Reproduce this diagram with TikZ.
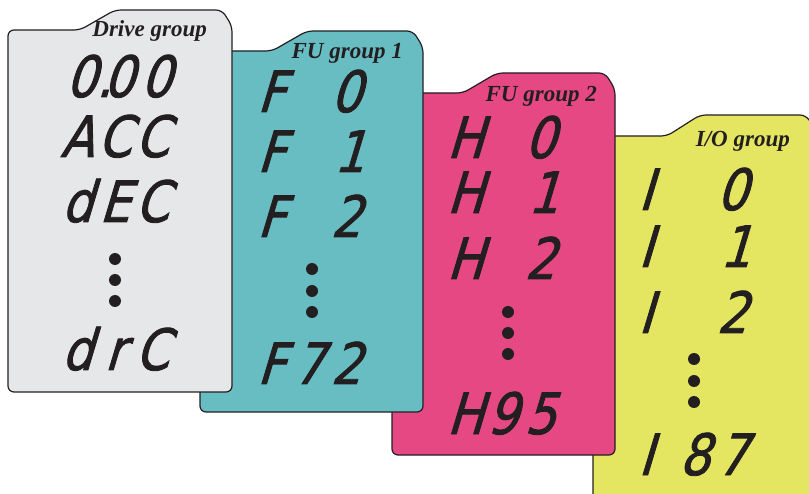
\documentclass[tikz,border=0pt]{standalone}
\usepackage{fontspec}
\newfontfamily\segfont[FakeSlant=0.3,FakeStretch=0.85,FakeBold=1.5]{DejaVu Sans}
\newfontfamily\titlefont{Liberation Serif}
\definecolor{ink}{HTML}{231F20}
\definecolor{cgray}{HTML}{E6E7E8}
\definecolor{cteal}{HTML}{68BDC3}
\definecolor{cpink}{HTML}{E54883}
\definecolor{cyell}{HTML}{E4E560}
\newcommand\cl[2][c]{\makebox[37.5pt][#1]{#2}}
% \card{left}{right}{bodytop}{tabtop}{slopestart}{slopeend}{bottom}{fill}
\newcommand\card[8]{%
  \draw[cardline, fill=#8] (#1,{(#3+#7)/2}) -- (#1,#3) -- (#5,#3) -- (#6,#4)
    -- ({#2-10},#4) -- (#2,{#4+16}) -- (#2,#7) -- (#1,#7) -- cycle;}
\tikzset{
  cardline/.style={draw=ink, line width=1.2pt, rounded corners=6pt},
  seg/.style={font=\fontsize{57}{57}\segfont, inner sep=0pt, anchor=base west, text=ink},
  ttl/.style={font=\fontsize{23}{23}\titlefont\bfseries\itshape, inner sep=0pt, anchor=base east, text=ink},
  dot/.style={fill=ink},
}
\begin{document}
\begin{tikzpicture}[x=1pt,y=-1pt]
\useasboundingbox (0,0) rectangle (809,494);
\clip (0,0) rectangle (809,494);
% I/O group
\card{593}{816}{136}{115}{667}{700}{504}{cyell}
\node[ttl] (t4) at (790,146.7) {I/O group};
\node[seg] (i1) at (638,210) {\cl[l]{I}\cl{}\cl{0}};
\node[seg] (i2) at (638,267) {\cl[l]{I}\cl{}\cl[r]{1}};
\node[seg] (i3) at (638,333) {\cl[l]{I}\cl{}\cl{2}};
\node[seg] (i4) at (638,475) {\cl[l]{I}\cl{8}\cl{7}};
\fill[dot] (694,359) circle (6pt) (694,381) circle (6pt) (694,402) circle (6pt);
% FU group 2
\card{392}{615}{93}{73}{463}{497}{455}{cpink}
\node[ttl] (t3) at (597,101.7) {FU group 2};
\node[seg] (h1) at (446,158) {\cl{H}\cl{}\cl{0}};
\node[seg] (h2) at (446,213) {\cl{H}\cl{}\cl[r]{1}};
\node[seg] (h3) at (446,279) {\cl{H}\cl{}\cl{2}};
\node[seg] (h4) at (446,434) {\cl{H}\cl{9}\cl{5}};
\fill[dot] (508,312) circle (6pt) (508,333) circle (6pt) (508,354) circle (6pt);
% FU group 1
\card{200}{423}{51}{31}{272}{307}{412}{cteal}
\node[ttl] (t2) at (403,58.3) {FU group 1};
\node[seg] (f1) at (252,112) {\cl{F}\cl{}\cl{0}};
\node[seg] (f2) at (252,172) {\cl{F}\cl{}\cl[r]{1}};
\node[seg] (f3) at (252,237) {\cl{F}\cl{}\cl{2}};
\node[seg] (f4) at (252,384) {\cl{F}\cl{7}\cl{2}};
\fill[dot] (312,269) circle (6pt) (312,291) circle (6pt) (312,312) circle (6pt);
% Drive group
\card{8}{232}{30}{10}{80}{115}{392}{cgray}
\node[ttl] (t1) at (207,36.5) {Drive group};
\node[seg] (d1) at (62,97) {\cl{0\rlap{.}}\cl{0}\cl{0}};
\node[seg] (d2) at (58,157) {\cl{A}\cl{C}\cl{C}};
\node[seg] (d3) at (58,222) {\cl{d}\cl{E}\cl{C}};
\node[seg] (d4) at (58,370) {\cl{d}\cl{r}\cl{C}};
\fill[dot] (115,259) circle (6pt) (115,280) circle (6pt) (115,301) circle (6pt);
\end{tikzpicture}
\end{document}
